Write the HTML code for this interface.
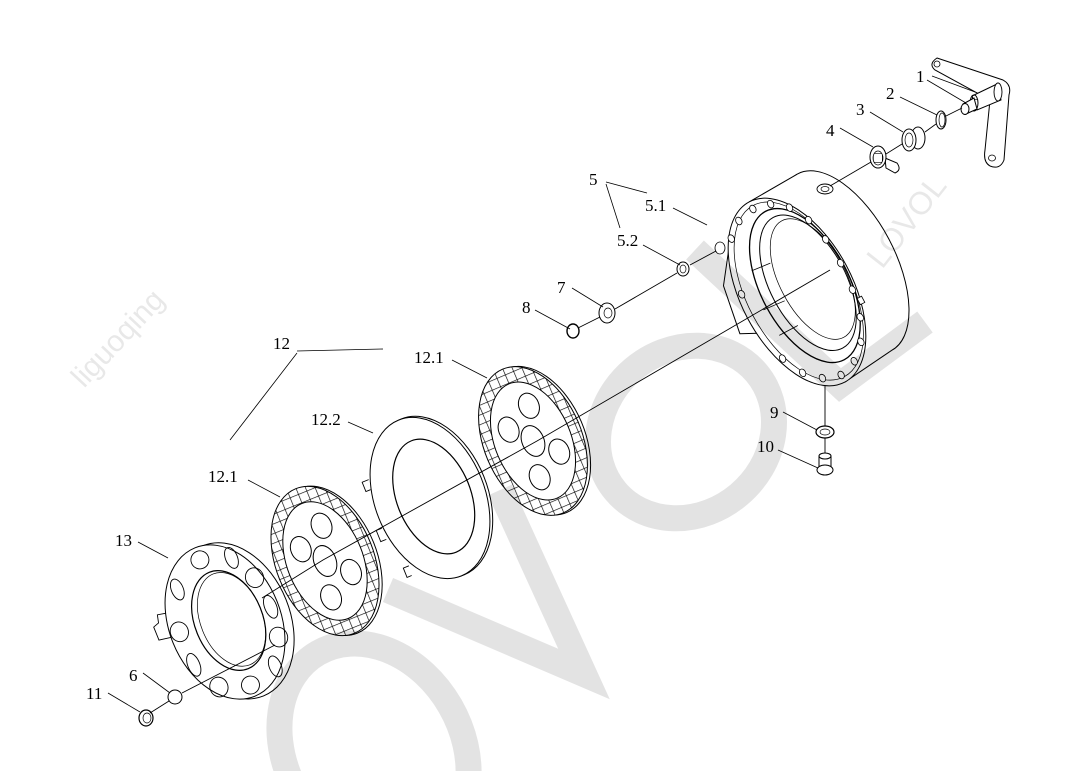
<!DOCTYPE html>
<html><head><meta charset="utf-8"><style>
html,body{margin:0;padding:0;background:#fff;overflow:hidden}
svg{display:block}
text{font-family:"Liberation Serif",serif;font-size:17px;fill:#000}
</style></head><body>
<svg width="1068" height="771" viewBox="0 0 1068 771" xmlns="http://www.w3.org/2000/svg">
<defs>
<pattern id="grid" patternUnits="userSpaceOnUse" width="9" height="9">
<path d="M0 0H9M0 0V9" stroke="#000" stroke-width="1.3" fill="none"/>
</pattern>
</defs>
<rect width="1068" height="771" fill="#fff"/>

<g fill="#fff" stroke="#000" stroke-width="1">

<!-- Housing -->
<g transform="translate(797,292) rotate(-28)">
  <ellipse cx="56" cy="-4" rx="50" ry="100"/>
  <path d="M0 -102 L56 -104 L56 96 L0 102 Z" stroke="none"/>
  <path d="M0 -102 L56 -104 M0 102 L56 96" fill="none"/>
  <path d="M-40 -70 L-62 -40 L-70 10 L-50 20 L-30 -60 Z"/>
  <ellipse cx="0" cy="0" rx="56" ry="102"/>
  <ellipse cx="2" cy="0" rx="52" ry="97" fill="none" stroke-width="0.7"/>
  <ellipse cx="10" cy="-2" rx="44" ry="84" fill="none" stroke-width="1.3"/>
  <ellipse cx="14" cy="-3" rx="38" ry="74" fill="none"/>
  <ellipse cx="20" cy="-4" rx="33" ry="66" fill="none" stroke-width="0.7"/>
  <path d="M-30 -40 L-10 -38 M-38 0 L-15 2 M-36 30 L-15 30" fill="none" stroke-width="0.8"/>
  <g fill="#fff" stroke-width="0.8">
    <ellipse cx="0" cy="-94" rx="3" ry="4"/>
    <ellipse cx="18" cy="-90" rx="3" ry="4"/>
    <ellipse cx="33" cy="-78" rx="3" ry="4"/>
    <ellipse cx="44" cy="-58" rx="3" ry="4"/>
    <ellipse cx="50" cy="-33" rx="3" ry="4"/>
    <ellipse cx="52" cy="-5" rx="3" ry="4"/>
    <ellipse cx="50" cy="24" rx="3" ry="4"/>
    <ellipse cx="44" cy="52" rx="3" ry="4"/>
    <ellipse cx="33" cy="74" rx="3" ry="4"/>
    <ellipse cx="18" cy="88" rx="3" ry="4"/>
    <ellipse cx="0" cy="94" rx="3" ry="4"/>
    <ellipse cx="-18" cy="88" rx="3" ry="4"/>
    <ellipse cx="-33" cy="74" rx="3" ry="4"/>
    <ellipse cx="-44" cy="52" rx="3" ry="4"/>
    <ellipse cx="-50" cy="-24" rx="3" ry="4"/>
    <ellipse cx="-33" cy="-78" rx="3" ry="4"/>
    <ellipse cx="-18" cy="-90" rx="3" ry="4"/>
  </g>
  <rect x="50" y="34" width="5" height="7" stroke-width="0.8"/>
</g>
<ellipse cx="720" cy="248" rx="5" ry="6" stroke-width="0.8"/>
<ellipse cx="825" cy="189" rx="8" ry="5" stroke-width="0.9"/>
<ellipse cx="825" cy="189" rx="4" ry="2.5" fill="none" stroke-width="0.7"/>

<!-- Separator 12.2 -->
<g transform="translate(430,498) rotate(-22)">
  <path d="M-50 -40 l-7 0 l0 10 l5 0 M-56 10 l-6 0 l0 12 l6 0 M-45 55 l-6 0 l0 10 l5 0" stroke-width="0.9"/>
  <ellipse cx="3" cy="0" rx="55" ry="84"/>
  <ellipse cx="0" cy="0" rx="55" ry="84"/>
  <ellipse cx="4" cy="0" rx="37" ry="60" fill="none" stroke-width="1.2"/>
</g>

<!-- Upper friction disk 12.1 -->
<g transform="translate(533,441) rotate(-23)">
  <ellipse cx="3" cy="1" rx="49" ry="78"/>
  <ellipse cx="0" cy="0" rx="49" ry="78"/>
  <path fill="url(#grid)" fill-rule="evenodd" stroke="none" d="M-49 0a49 78 0 1 0 98 0a49 78 0 1 0-98 0ZM-38 0a38 62 0 1 0 76 0a38 62 0 1 0-76 0Z"/>
  <ellipse cx="0" cy="0" rx="38" ry="62" fill="none"/>
  <ellipse cx="-18" cy="-20" rx="10" ry="13" fill="none"/>
  <ellipse cx="10" cy="-34" rx="10" ry="13" fill="none"/>
  <ellipse cx="20" cy="20" rx="10" ry="13" fill="none"/>
  <ellipse cx="-8" cy="36" rx="10" ry="13" fill="none"/>
  <ellipse cx="0" cy="0" rx="11" ry="16" fill="none"/>
</g>

<!-- Lower friction disk 12.1 -->
<g transform="translate(325,561) rotate(-22)">
  <ellipse cx="3" cy="1" rx="49" ry="78"/>
  <ellipse cx="0" cy="0" rx="49" ry="78"/>
  <path fill="url(#grid)" fill-rule="evenodd" stroke="none" d="M-49 0a49 78 0 1 0 98 0a49 78 0 1 0-98 0ZM-38 0a38 62 0 1 0 76 0a38 62 0 1 0-76 0Z"/>
  <ellipse cx="0" cy="0" rx="38" ry="62" fill="none"/>
  <ellipse cx="-18" cy="-20" rx="10" ry="13" fill="none"/>
  <ellipse cx="10" cy="-34" rx="10" ry="13" fill="none"/>
  <ellipse cx="20" cy="20" rx="10" ry="13" fill="none"/>
  <ellipse cx="-8" cy="36" rx="10" ry="13" fill="none"/>
  <ellipse cx="0" cy="0" rx="11" ry="16" fill="none"/>
</g>

<!-- Pressure plate 13 -->
<g transform="translate(225,622) rotate(-22)">
  <ellipse cx="8" cy="2" rx="57" ry="81"/>
  <path d="M-50 -30 l-10 -2 l-2 8 l-6 2 l0 14 l12 2" stroke-width="0.9"/>
  <ellipse cx="0" cy="0" rx="56" ry="80"/>
  <g fill="none" stroke-width="0.9">
    <ellipse cx="0" cy="-67" rx="9" ry="9"/>
    <ellipse cx="30" cy="-57" rx="6" ry="11"/>
    <ellipse cx="44" cy="-30" rx="9" ry="10"/>
    <ellipse cx="48" cy="3" rx="6" ry="12"/>
    <ellipse cx="44" cy="34" rx="9" ry="10"/>
    <ellipse cx="30" cy="60" rx="6" ry="11"/>
    <ellipse cx="0" cy="68" rx="9" ry="9"/>
    <ellipse cx="-30" cy="58" rx="9" ry="10"/>
    <ellipse cx="-45" cy="28" rx="6" ry="12"/>
    <ellipse cx="-46" cy="-8" rx="9" ry="10"/>
    <ellipse cx="-32" cy="-48" rx="6" ry="11"/>
  </g>
  <ellipse cx="4" cy="0" rx="34" ry="52" stroke-width="1.2"/>
  <ellipse cx="7" cy="0" rx="31" ry="49" fill="none" stroke-width="0.7"/>
</g>

<!-- small parts top right -->
<path d="M937 58 L1003 80 Q1012 85 1009 95 L1004 160 Q1000 170 990 166 Q983 162 985 150 L990 100 L935 70 Q928 64 937 58 Z" stroke-width="1"/>
<ellipse cx="937" cy="64" rx="3" ry="3" stroke-width="0.8"/>
<ellipse cx="992" cy="158" rx="3.5" ry="3" stroke-width="0.8"/>
<path d="M972 96 L997 84 L1001 100 L977 110 Z"/>
<ellipse cx="998" cy="92" rx="4" ry="9" stroke-width="0.9"/>
<ellipse cx="974" cy="103" rx="4" ry="8" fill="url(#grid)"/>
<path d="M963 104 L974 98 L977 109 L966 114 Z"/>
<ellipse cx="965" cy="109" rx="4" ry="5.5"/>
<ellipse cx="941" cy="120" rx="5" ry="9"/>
<ellipse cx="942" cy="120" rx="3" ry="7" fill="none" stroke-width="0.7"/>
<path d="M907 130 L917 128 L920 148 L910 150 Z" stroke="none"/>
<ellipse cx="918" cy="138" rx="7" ry="11"/>
<ellipse cx="909" cy="140" rx="7" ry="11"/>
<ellipse cx="909" cy="140" rx="4" ry="7" fill="none" stroke-width="0.7"/>
<path d="M885 158 L897 163 Q902 170 895 173 L886 168 Z"/>
<ellipse cx="878" cy="157" rx="8" ry="11"/>
<ellipse cx="878" cy="158" rx="5" ry="7" fill="url(#grid)" stroke-width="0.7"/>

<!-- 5.2 7 8 -->
<ellipse cx="683" cy="269" rx="6" ry="7"/>
<ellipse cx="683" cy="269" rx="3" ry="4" fill="none" stroke-width="0.7"/>
<ellipse cx="607" cy="313" rx="8" ry="10"/>
<ellipse cx="608" cy="313" rx="4" ry="5" fill="none" stroke-width="0.7"/>
<ellipse cx="573" cy="331" rx="6" ry="7" stroke-width="1.4"/>

<!-- 9 10 -->
<ellipse cx="825" cy="432" rx="9" ry="6" stroke-width="1.2"/>
<ellipse cx="825" cy="432" rx="5" ry="3" fill="none" stroke-width="0.7"/>
<path d="M819 456 L819 467 L831 467 L831 456 Z"/>
<ellipse cx="825" cy="456" rx="6" ry="3"/>
<ellipse cx="825" cy="470" rx="8" ry="5"/>

<!-- 6 11 -->
<circle cx="175" cy="697" r="7"/>
<ellipse cx="146" cy="718" rx="7" ry="8" stroke-width="1.2"/>
<ellipse cx="147" cy="718" rx="4" ry="5" fill="none" stroke-width="0.7"/>
</g>

<!-- axis lines -->
<g stroke="#000" stroke-width="0.9" fill="none">
<path d="M150 713 L169 701"/>
<path d="M182 693 L275 645"/>
<path d="M262 598 L323 560 L537 441 L830 270"/>
<path d="M886 154 L902 144 M925 132 L936 124 M946 116 L962 108"/>
<path d="M830 186 L871 162"/>
<path d="M690 265 L716 251"/>
<path d="M578 328 L600 317 M615 309 L677 273"/>
<path d="M825 386 L825 426 M825 438 L825 453"/>
</g>

<!-- leaders -->
<g stroke="#000" stroke-width="0.8" fill="none">
<path d="M927 80 L966 103 M932 76 L975 92"/>
<path d="M900 97 L937 115"/>
<path d="M870 112 L903 132"/>
<path d="M840 128 L873 147"/>
<path d="M606 182 L647 193 M606 184 L620 228"/>
<path d="M673 208 L707 225"/>
<path d="M643 245 L680 265"/>
<path d="M572 288 L603 307"/>
<path d="M535 310 L570 329"/>
<path d="M297 351 L383 349 M297 353 L230 440"/>
<path d="M452 360 L487 378"/>
<path d="M348 422 L373 433"/>
<path d="M248 480 L280 497"/>
<path d="M138 542 L168 558"/>
<path d="M143 673 L170 693"/>
<path d="M108 693 L140 712"/>
<path d="M783 412 L817 430"/>
<path d="M778 450 L818 468"/>
</g>

<!-- labels -->
<text x="916" y="82">1</text>
<text x="886" y="99">2</text>
<text x="856" y="115">3</text>
<text x="826" y="136">4</text>
<text x="589" y="185">5</text>
<text x="645" y="211">5.1</text>
<text x="617" y="246">5.2</text>
<text x="557" y="293">7</text>
<text x="522" y="313">8</text>
<text x="273" y="349">12</text>
<text x="414" y="363">12.1</text>
<text x="311" y="425">12.2</text>
<text x="208" y="482">12.1</text>
<text x="115" y="546">13</text>
<text x="129" y="681">6</text>
<text x="86" y="699">11</text>
<text x="770" y="418">9</text>
<text x="757" y="452">10</text>

<!-- watermark -->
<g fill="none" stroke="#000" stroke-opacity="0.11" stroke-width="26">
<polyline points="388,590 584,674 500,490" stroke-linejoin="miter"/>
<ellipse cx="686" cy="432" rx="92" ry="82" transform="rotate(-40 686 432)"/>
<ellipse cx="374" cy="750" rx="88" ry="112" transform="rotate(-30 374 750)"/>
<polyline points="695,250 840,385 925,322"/>
</g>
<text x="0" y="0" transform="translate(125,345) rotate(-47)" text-anchor="middle" style="font-family:'Liberation Sans',sans-serif;font-size:30px;fill:#000;fill-opacity:0.09">liguoqing</text>
<text x="0" y="0" transform="translate(915,228) rotate(-52)" text-anchor="middle" style="font-family:'Liberation Sans',sans-serif;font-size:32px;fill:#000;fill-opacity:0.09">LOVOL</text>
</svg>
</body></html>
